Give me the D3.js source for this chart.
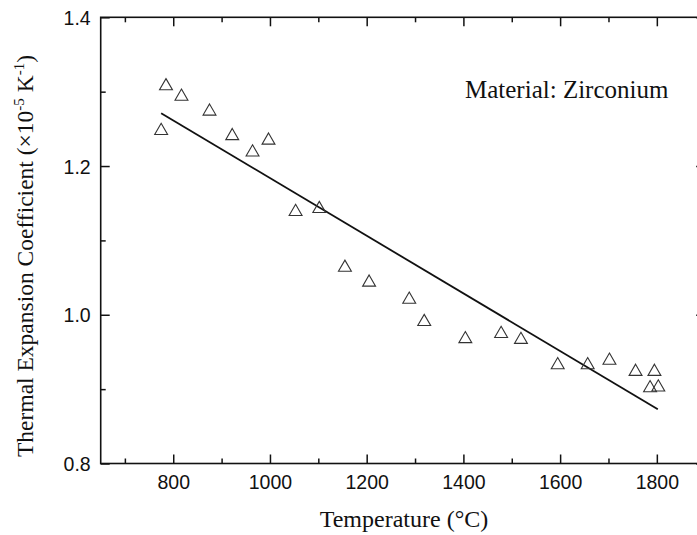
<!DOCTYPE html>
<html>
<head>
<meta charset="utf-8">
<script src="https://cdn.jsdelivr.net/npm/d3@7"></script>
<style>
  body { margin: 0; background: #fff; }
  svg { display: block; }
  .tick-label { font-family: "Liberation Sans", Arial, sans-serif; font-size: 19.5px; fill: #111; }
  .serif { font-family: "Liberation Serif", "Times New Roman", serif; fill: #111; }
</style>
</head>
<body>
<div id="chart"></div>
<script>
const temperature = [775, 785, 817, 875, 922, 964, 997, 1053, 1102, 1155, 1205, 1288, 1319,
  1404, 1478, 1519, 1595, 1657, 1702, 1756, 1795, 1786, 1803];
const coefficient = [1.250, 1.310, 1.296, 1.276, 1.243, 1.221, 1.237, 1.141, 1.145, 1.066, 1.046, 1.023, 0.993,
  0.970, 0.977, 0.969, 0.935, 0.935, 0.941, 0.926, 0.926, 0.904, 0.905];

// Linear fit end points
const fitTemperature = [775, 1802];
const fitCoefficient = [1.271, 0.873];

const xMajorTicks = [800, 1000, 1200, 1400, 1600, 1800];
const xMinorTicks = [700, 900, 1100, 1300, 1500, 1700, 1900];
const yMajorTicks = [0.8, 1.0, 1.2, 1.4];
const yMinorTicks = [0.9, 1.1, 1.3];

const width = 697, height = 535;
const plot = { left: 100.7, right: 705.2, top: 17.3, bottom: 463.5 };

const svg = d3.select("#chart").append("svg")
  .attr("width", width)
  .attr("height", height);

const x = d3.scaleLinear().domain([650, 1900]).range([plot.left, plot.right]);
const y = d3.scaleLinear().domain([0.8, 1.4]).range([plot.bottom, plot.top]);

const MAJOR = 9, MINOR = 5;

// Inward ticks on all four sides
function addAxis(axisFn, scale, ticks, len, translate, showLabels, fmt) {
  const g = svg.append("g")
    .attr("transform", translate)
    .call(axisFn(scale).tickValues(ticks).tickSizeInner(-len).tickSizeOuter(0)
      .tickFormat(showLabels ? fmt : ""));
  g.select(".domain").remove();
  g.selectAll(".tick line").attr("stroke", "#111").attr("stroke-width", 1.5);
  g.selectAll(".tick text").attr("class", "tick-label");
  return g;
}

const fx = d3.format("d"), fy = d3.format(".1f");

const bottomMajor = addAxis(d3.axisBottom, x, xMajorTicks, MAJOR, `translate(0,${plot.bottom})`, true, fx);
bottomMajor.selectAll(".tick text").attr("y", 12).attr("dy", "0.71em");
addAxis(d3.axisBottom, x, xMinorTicks, MINOR, `translate(0,${plot.bottom})`, false);
addAxis(d3.axisTop, x, xMajorTicks, MAJOR, `translate(0,${plot.top})`, false);
addAxis(d3.axisTop, x, xMinorTicks, MINOR, `translate(0,${plot.top})`, false);

const leftMajor = addAxis(d3.axisLeft, y, yMajorTicks, MAJOR, `translate(${plot.left},0)`, true, fy);
leftMajor.selectAll(".tick text").attr("x", -10).attr("dy", "0.36em");
addAxis(d3.axisLeft, y, yMinorTicks, MINOR, `translate(${plot.left},0)`, false);
addAxis(d3.axisRight, y, yMajorTicks, MAJOR, `translate(${plot.right},0)`, false);
addAxis(d3.axisRight, y, yMinorTicks, MINOR, `translate(${plot.right},0)`, false);

// Frame
svg.append("rect")
  .attr("x", plot.left)
  .attr("y", plot.top)
  .attr("width", plot.right - plot.left)
  .attr("height", plot.bottom - plot.top)
  .attr("fill", "none")
  .attr("stroke", "#111")
  .attr("stroke-width", 1.6);

// Fit line
const fitData = fitTemperature.map((t, i) => ({ t, v: fitCoefficient[i] }));
svg.append("path")
  .datum(fitData)
  .attr("fill", "none")
  .attr("stroke", "#111")
  .attr("stroke-width", 1.8)
  .attr("d", d3.line().x(d => x(d.t)).y(d => y(d.v)));

// Open triangle centred on its bounding box (like Origin's symbol)
const boxTriangle = {
  draw(context, size) {
    const s = Math.sqrt(size * 4 / Math.sqrt(3)); // side length
    const h = s * Math.sqrt(3) / 2;
    context.moveTo(0, -h / 2);
    context.lineTo(s / 2, h / 2);
    context.lineTo(-s / 2, h / 2);
    context.closePath();
  }
};

// Markers
const points = temperature.map((t, i) => ({ t, v: coefficient[i] }));
const tri = d3.symbol().type(boxTriangle).size(72);
svg.append("g")
  .selectAll("path")
  .data(points)
  .join("path")
  .attr("transform", d => `translate(${x(d.t)},${y(d.v)})`)
  .attr("d", tri)
  .attr("fill", "none")
  .attr("stroke", "#333")
  .attr("stroke-width", 1.1);

// Annotation
svg.append("text")
  .attr("class", "serif")
  .attr("x", 465)
  .attr("y", 98)
  .style("font-size", "25px")
  .text("Material: Zirconium");

// X axis title
svg.append("text")
  .attr("class", "serif")
  .attr("x", 404)
  .attr("y", 527)
  .attr("text-anchor", "middle")
  .style("font-size", "24px")
  .text("Temperature (°C)");

// Y axis title with superscripts
const yTitle = svg.append("text")
  .attr("class", "serif")
  .attr("transform", "translate(33,256) rotate(-90)")
  .attr("text-anchor", "middle")
  .style("font-size", "23.5px");
yTitle.append("tspan").text("Thermal Expansion Coefficient (×10");
yTitle.append("tspan").attr("dy", -9).style("font-size", "15px").text("-5");
yTitle.append("tspan").attr("dy", 9).text(" K");
yTitle.append("tspan").attr("dy", -9).style("font-size", "15px").text("-1");
yTitle.append("tspan").attr("dy", 9).text(")");
</script>
</body>
</html>
